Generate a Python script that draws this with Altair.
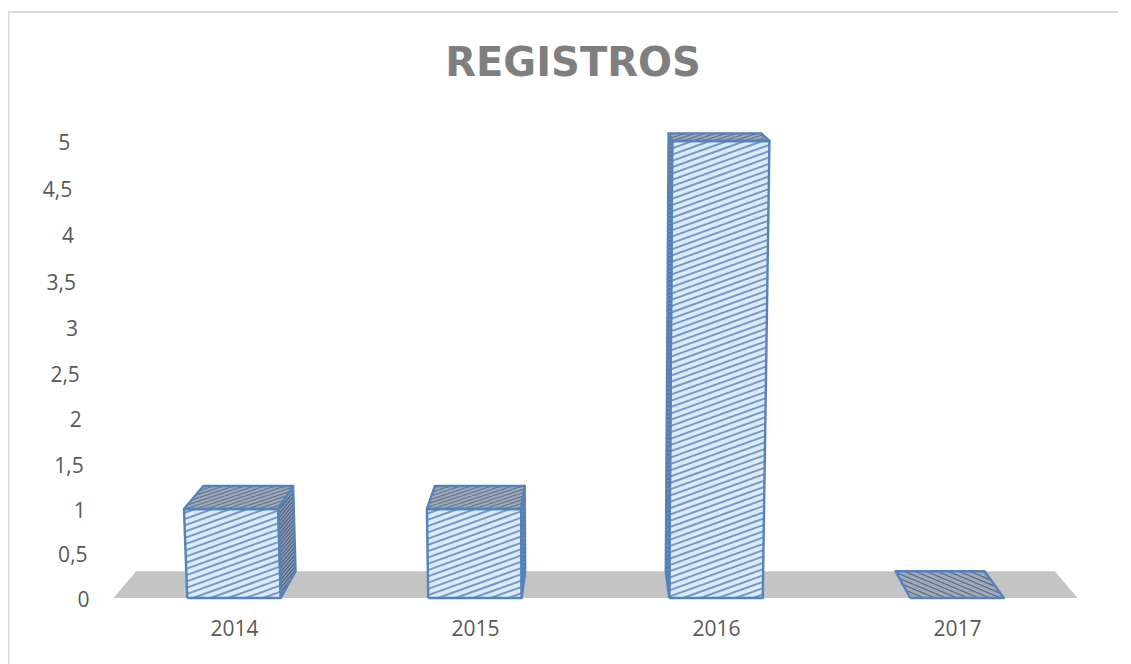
import altair as alt
import pandas as pd

YEARS = [2014, 2015, 2016, 2017]
VALUES = [1, 1, 5, 0]
Y_TICKS = [0, 0.5, 1, 1.5, 2, 2.5, 3, 3.5, 4, 4.5, 5]
TITLE = "REGISTROS"

# Size of one category step and of one value unit on screen, and bar half width
STEP_PX = 241.0
UNIT_PX = 91.4
HALF_BAR = 0.194
FLOOR_HALF = 2.0
WIDTH, HEIGHT = 1115, 656
CX_PX, BASE_PX = 587.5, 590.0  # scene centre and baseline inside the plot area

EDGE = "#5582BC"
FRONT_FILL = "#DCEAF8"
FRONT_HATCH = "#7397C6"
TOP_FILL = "#A2A9B4"
TOP_HATCH = "#5F7697"
SIDE_FILL = "#8F98A6"
SIDE_HATCH = "#4F6A90"
FLOOR = "#C4C4C4"
FRAME = "#DADADA"
TEXT = "#595959"
TITLE_COLOR = "#7F7F7F"


def project(u, v, d):
    """Perspective of the 3-D scene: u category units, v value, d depth 0..1."""
    x = u * (1 + 0.008 * v) * (1 - 0.047 * d)
    rise = (88.4 * v + 0.6 * v * v) / UNIT_PX
    y = rise + d * (26.8 - 3.83 * v) / UNIT_PX
    return (x, y)


def rows_for_polygon(face, pts, color):
    ys = sorted({round(p[1], 5) for p in pts})
    rows = []
    n = len(pts)
    for yy in ys:
        xs = []
        for i in range(n):
            (x1, y1), (x2, y2) = pts[i], pts[(i + 1) % n]
            if abs(y1 - y2) < 1e-5:
                if abs(y1 - yy) < 1e-4:
                    xs += [x1, x2]
            elif min(y1, y2) - 1e-5 <= yy <= max(y1, y2) + 1e-5:
                xs.append(x1 + (yy - y1) * (x2 - x1) / (y2 - y1))
        rows.append({"face": face, "y": yy, "x": min(xs), "x2": max(xs), "color": color})
    return rows


def hatch(pts, slope, spacing, color, width):
    """Clip parallel lines (screen slope, screen spacing) to a convex polygon."""
    spx = [(p[0] * STEP_PX, p[1] * UNIT_PX) for p in pts]
    cs = [p[1] - slope * p[0] for p in spx]
    out = []
    c = (min(cs) // spacing + 1) * spacing
    while c < max(cs):
        hits = []
        for i in range(len(spx)):
            (x1, y1), (x2, y2) = spx[i], spx[(i + 1) % len(spx)]
            f1, f2 = y1 - slope * x1 - c, y2 - slope * x2 - c
            if f1 * f2 < 0:
                t = f1 / (f1 - f2)
                hits.append((x1 + t * (x2 - x1), y1 + t * (y2 - y1)))
        if len(hits) == 2:
            (a, b), (e, f) = hits
            out.append({"x": a / STEP_PX, "y": b / UNIT_PX, "x2": e / STEP_PX,
                        "y2": f / UNIT_PX, "color": color, "sw": width})
        c += spacing
    return out


fills, hatches, outlines = [], [], []


def add_face(name, pts, fill, slope, spacing, hatch_color, sw):
    fills.extend(rows_for_polygon(name, pts, fill))
    hatches.extend(hatch(pts, slope, spacing, hatch_color, sw))
    for i, p in enumerate(list(pts) + [pts[0]]):
        outlines.append({"face": name, "i": i, "x": p[0], "y": p[1]})


for i, (year, val) in enumerate(zip(YEARS, VALUES)):
    c = i - 1.5
    l, r = c - HALF_BAR, c + HALF_BAR
    if val > 0:
        side_u = r if r < 0 else l
        side = [project(side_u, 0, 0), project(side_u, 0, 1), project(side_u, val, 1), project(side_u, val, 0)]
        add_face(f"{year}-side", side, SIDE_FILL, 1.2, 4.0, SIDE_HATCH, 1.2)
        top = [project(l, val, 0), project(r, val, 0), project(r, val, 1), project(l, val, 1)]
        add_face(f"{year}-top", top, TOP_FILL, 0.33, 3.4, TOP_HATCH, 1.2)
        front = [project(l, 0, 0), project(r, 0, 0), project(r, val, 0), project(l, val, 0)]
        add_face(f"{year}-front", front, FRONT_FILL, 0.36, 6.3, FRONT_HATCH, 1.9)
    else:
        top = [project(l, 0, 0), project(r, 0, 0), project(r, 0, 1), project(l, 0, 1)]
        add_face(f"{year}-top", top, TOP_FILL, -0.42, 4.6, SIDE_HATCH, 1.2)

floor_pts = [project(-FLOOR_HALF, 0, 0), project(FLOOR_HALF, 0, 0),
             project(FLOOR_HALF, 0, 1), project(-FLOOR_HALF, 0, 1)]
floor_df = pd.DataFrame(rows_for_polygon("floor", floor_pts, FLOOR))

tick_df = pd.DataFrame([
    {"x": project(-FLOOR_HALF, t, 0)[0], "y": project(-FLOOR_HALF, t, 0)[1],
     "label": f"{t:g}".replace(".", ",")}
    for t in Y_TICKS
])

x_scale = alt.Scale(domain=[(0 - CX_PX) / STEP_PX, (WIDTH - CX_PX) / STEP_PX], nice=False, zero=False)
y_scale = alt.Scale(domain=[(BASE_PX - HEIGHT) / UNIT_PX, BASE_PX / UNIT_PX], nice=False, zero=False)

x_enc = alt.X(
    "x:Q", scale=x_scale, title=None,
    axis=alt.Axis(values=[i - 1.5 for i in range(len(YEARS))],
                  labelExpr="format(datum.value + 1.5 + %d, 'd')" % YEARS[0],
                  domain=False, ticks=False, grid=False, offset=-(HEIGHT - BASE_PX - 20),
                  labelPadding=0, labelFont="Open Sans", labelFontSize=21, labelColor=TEXT),
)
y_enc = alt.Y("y:Q", scale=y_scale, axis=None, title=None)

floor = alt.Chart(floor_df).mark_area(orient="horizontal", color=FLOOR).encode(
    x=x_enc, x2="x2:Q", y=y_enc)

face_fill = alt.Chart(pd.DataFrame(fills)).mark_area(orient="horizontal").encode(
    x=x_enc, x2="x2:Q", y=y_enc, detail="face:N",
    fill=alt.Color("color:N", scale=None))

hatch_lines = alt.Chart(pd.DataFrame(hatches)).mark_rule().encode(
    x=x_enc, x2="x2:Q", y=y_enc, y2="y2:Q",
    color=alt.Color("color:N", scale=None),
    strokeWidth=alt.StrokeWidth("sw:Q", scale=None))

edges = alt.Chart(pd.DataFrame(outlines)).mark_line(color=EDGE, strokeWidth=2.4, strokeJoin="round").encode(
    x=x_enc, y=y_enc, detail="face:N", order="i:Q")

y_labels = alt.Chart(tick_df).mark_text(
    align="right", baseline="middle", dx=-24, dy=2.5, font="Open Sans", fontSize=21, color=TEXT
).encode(x=x_enc, y=y_enc, text="label:N")

frame_df = pd.DataFrame({"k": [0]})
frame_top = alt.Chart(frame_df).mark_rule(color=FRAME, strokeWidth=2).encode(
    x=alt.value(0), x2=alt.value(1110), y=alt.value(4))
frame_left = alt.Chart(frame_df).mark_rule(color=FRAME, strokeWidth=2).encode(
    x=alt.value(0.5), y=alt.value(4), y2=alt.value(HEIGHT))

chart = alt.layer(frame_top, frame_left, floor, face_fill, hatch_lines, edges, y_labels).properties(
    width=WIDTH, height=HEIGHT,
    padding=0,
    autosize=alt.AutoSizeParams(type="none"),
    title=alt.TitleParams(TITLE, anchor="middle", font="DejaVu Sans", fontWeight="bold",
                          fontSize=40, color=TITLE_COLOR, offset=0, dx=7.5, dy=108,
                          baseline="alphabetic"),
).configure_view(stroke=None)

chart.save("out.html", embed_options={"renderer": "svg", "actions": False})
